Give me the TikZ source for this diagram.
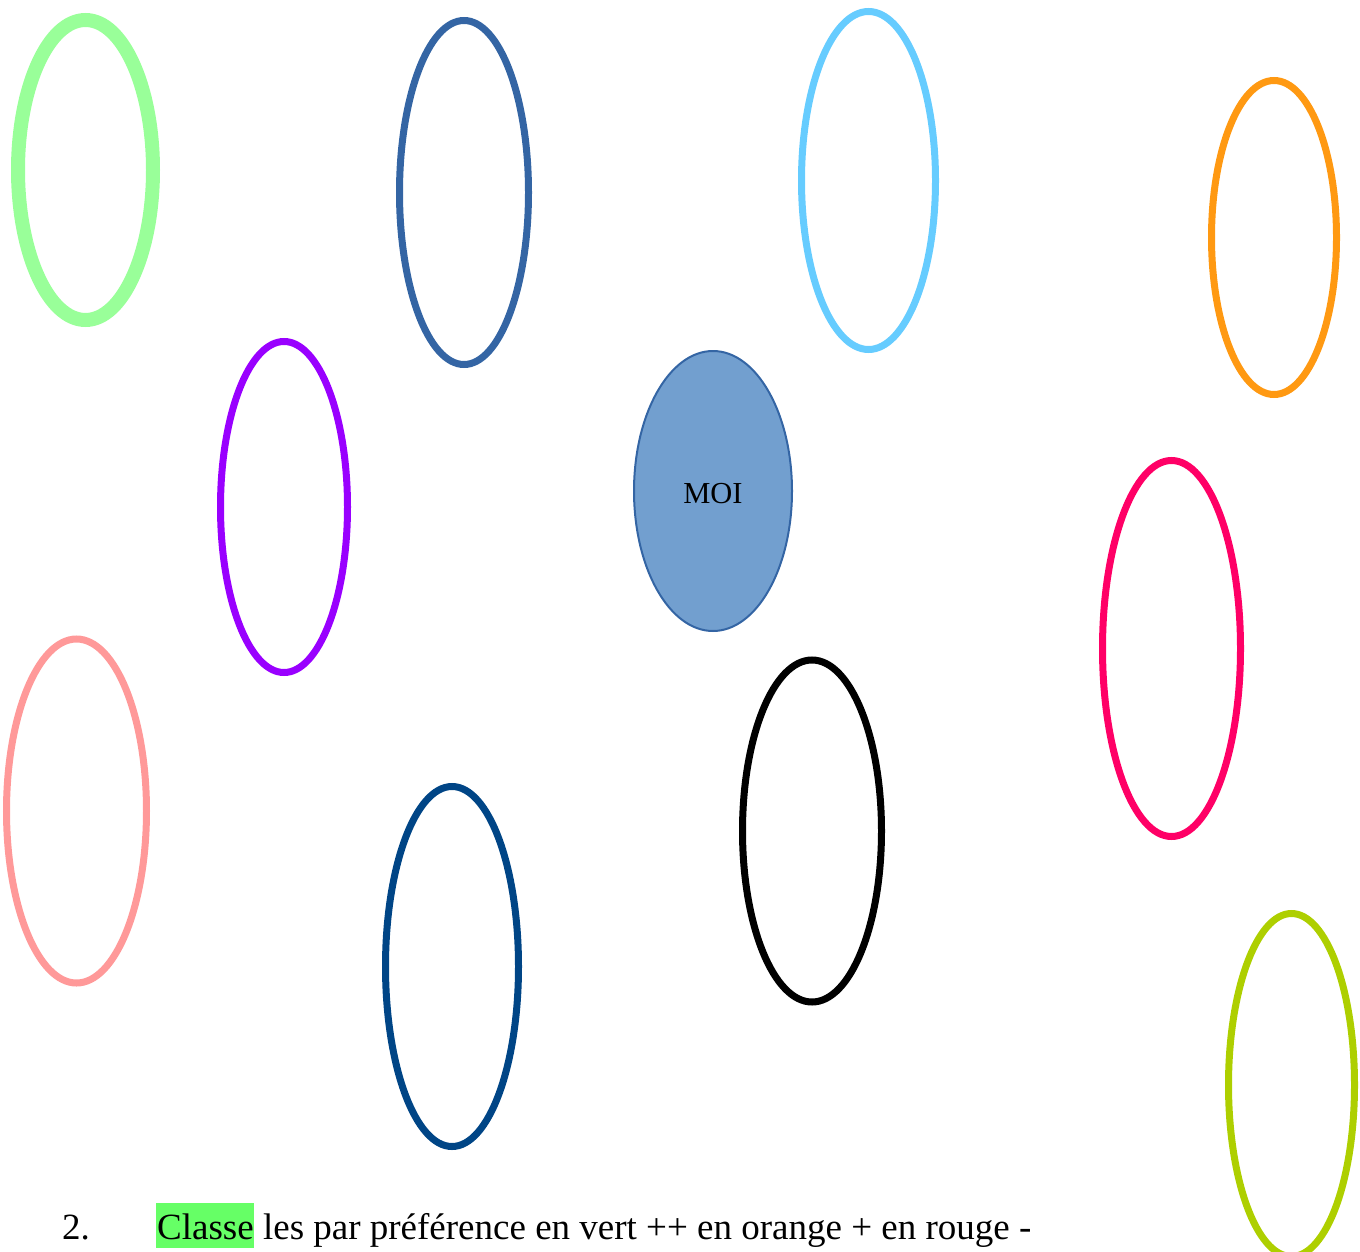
\documentclass[tikz,border=0pt]{standalone}
\usepackage{fontspec}
\setmainfont{Liberation Serif}
\usetikzlibrary{shapes.geometric}
\definecolor{cgreen}{HTML}{99FF99}
\definecolor{cblue}{HTML}{3465A4}
\definecolor{clight}{HTML}{66CCFF}
\definecolor{corange}{HTML}{FF9912}
\definecolor{cpurple}{HTML}{9900FF}
\definecolor{cmoi}{HTML}{729FCF}
\definecolor{cpink}{HTML}{FF0066}
\definecolor{csalmon}{HTML}{FF9999}
\definecolor{cnavy}{HTML}{004586}
\definecolor{clime}{HTML}{AECF00}
\definecolor{chl}{HTML}{66FF66}
\begin{document}
\begin{tikzpicture}[x=1pt,y=-1pt,
  ring/.style={line width=7pt}]
\useasboundingbox (0,0) rectangle (1360,1252);
\begin{scope}
\clip (0,0) rectangle (1360,1252);
\draw[ring,line width=14pt,cgreen] (85.5,170) ellipse [x radius=67.5, y radius=150];
\draw[ring,cblue] (464,192.5) ellipse [x radius=64.5, y radius=172];
\draw[ring,clight] (868.5,180.5) ellipse [x radius=67, y radius=169];
\draw[ring,corange] (1274,237.5) ellipse [x radius=62.5, y radius=157];
\draw[ring,cpurple] (284,507) ellipse [x radius=63.5, y radius=165.5];
\node[ellipse,draw=cblue,line width=2pt,fill=cmoi,minimum width=158pt,minimum height=280pt,inner sep=0pt] (moi) at (713,491) {};
\node[anchor=base,font=\fontsize{30.5}{36}\selectfont] (moitxt) at (713,503) {MOI};
\draw[ring,cpink] (1171.5,648.5) ellipse [x radius=69, y radius=188];
\draw[ring,csalmon] (76.5,811) ellipse [x radius=70, y radius=172];
\draw[ring,cnavy] (452,966.5) ellipse [x radius=66.5, y radius=180];
\draw[ring,black] (812,831) ellipse [x radius=69.5, y radius=171];
\draw[ring,clime] (1291.5,1085) ellipse [x radius=63, y radius=171.5];
\end{scope}
\node[anchor=base west,font=\fontsize{37}{44}\selectfont,inner sep=0pt] (num) at (62,1239) {2.};
\fill[chl] (156,1203) rectangle (254,1248);
\node[anchor=base west,font=\fontsize{37}{44}\selectfont,inner sep=0pt] (txt) at (157,1239) {Classe les par préférence en vert ++ en orange + en rouge -};
\end{tikzpicture}
\end{document}
